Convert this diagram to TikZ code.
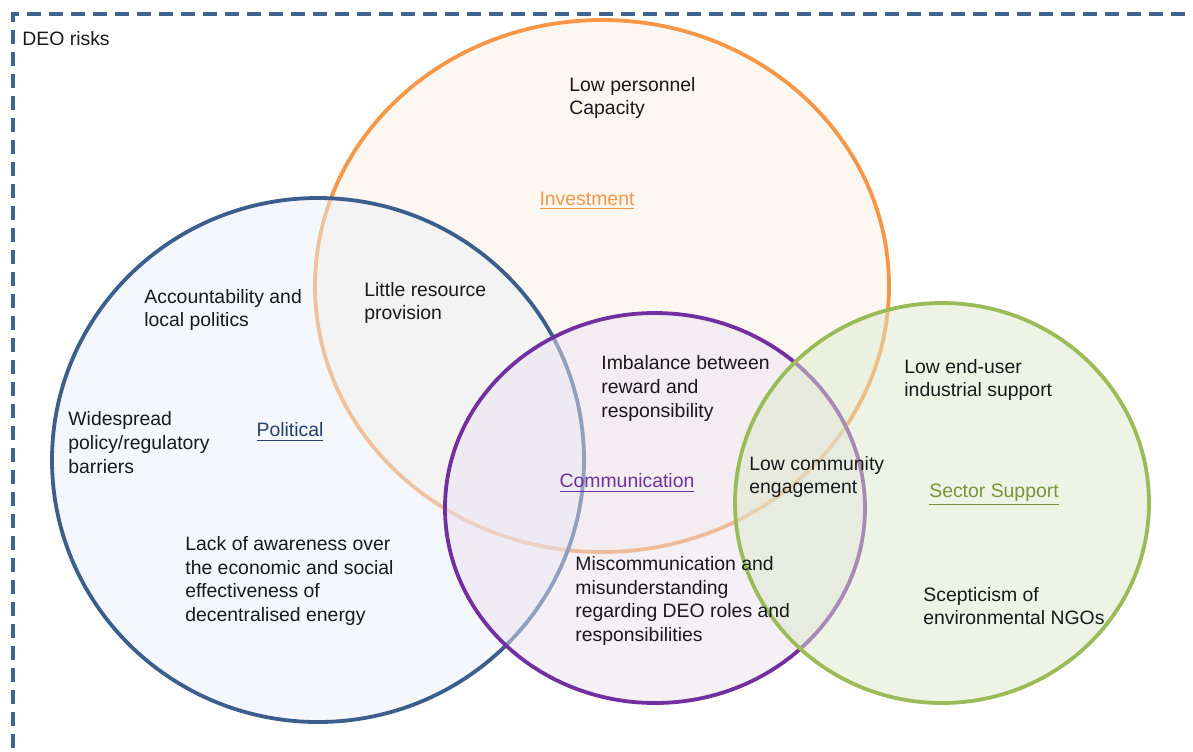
\documentclass[tikz,border=0pt]{standalone}
\usepackage{fontspec}
\setmainfont{Liberation Sans}
\usepackage{xcolor}
\usetikzlibrary{arrows.meta}

\definecolor{framecol}{HTML}{41648F}
\definecolor{polcol}{HTML}{3B5E8C}
\definecolor{polfill}{HTML}{E9EFF7}
\definecolor{poltext}{HTML}{24406E}
\definecolor{invcol}{HTML}{F79646}
\definecolor{invfill}{HTML}{FCF0E6}
\definecolor{comcol}{HTML}{7030A0}
\definecolor{comfill}{HTML}{E9E1EE}
\definecolor{seccol}{HTML}{9BBB59}
\definecolor{secfill}{HTML}{DCE9CB}
\definecolor{sectext}{HTML}{77933C}

\begin{document}
\begin{tikzpicture}[x=0.5pt,y=-0.5pt,font=\fontsize{9.7}{11.8}\selectfont,
  risk/.style={anchor=west,align=left,inner sep=0pt,yshift=-1pt,text=black!90},
  setlabel/.style={anchor=center,inner sep=0pt,yshift=-1pt},
  setring/.style={line width=1.9pt,fill opacity=0.5}]
\useasboundingbox (0,0) rectangle (1193,751);

% outer dashed frame, runs off the page on the right and bottom
\draw[draw=framecol,line width=1.6pt,dash pattern=on 7pt off 4pt] (13,770) -- (13,14) -- (1210,14);
\node[risk] (title) at (22,37) {DEO risks};

% the four risk groups
\draw[setring,draw=invcol,fill=invfill] (602,286) ellipse (287 and 266);
\draw[setring,draw=polcol,fill=polfill] (318,460) ellipse (266 and 262);
\draw[setring,draw=comcol,fill=comfill] (655,508) ellipse (210 and 195);
\draw[setring,draw=seccol,fill=secfill] (942,503) ellipse (207 and 200);

% group names
\node[setlabel,text=invcol] (investment) at (587,199) {\underline{Investment}};
\node[setlabel,text=poltext] (political) at (290,430) {\underline{Political}};
\node[setlabel,text=comcol] (communication) at (627,481) {\underline{Communication}};
\node[setlabel,text=sectext] (sector) at (994,493) {\underline{Sector Support}};

% individual risks
\node[risk] (personnel) at (569,96) {Low personnel\\Capacity};
\node[risk] (accountability) at (144,308) {Accountability and\\local politics};
\node[risk] (resource) at (364,301) {Little resource\\provision};
\node[risk] (barriers) at (68,440.5) {Widespread\\policy/regulatory\\barriers};
\node[risk] (imbalance) at (601,386.5) {Imbalance between\\reward and\\responsibility};
\node[risk] (enduser) at (904,378) {Low end-user\\industrial support};
\node[risk] (community) at (749,475) {Low community\\engagement};
\node[risk] (awareness) at (185,579) {Lack of awareness over\\the economic and social\\effectiveness of\\decentralised energy};
\node[risk] (miscomm) at (575,599) {Miscommunication and\\misunderstanding\\regarding DEO roles and\\responsibilities};
\node[risk] (scepticism) at (923,604) {Scepticism of\\environmental NGOs};
\end{tikzpicture}
\end{document}
